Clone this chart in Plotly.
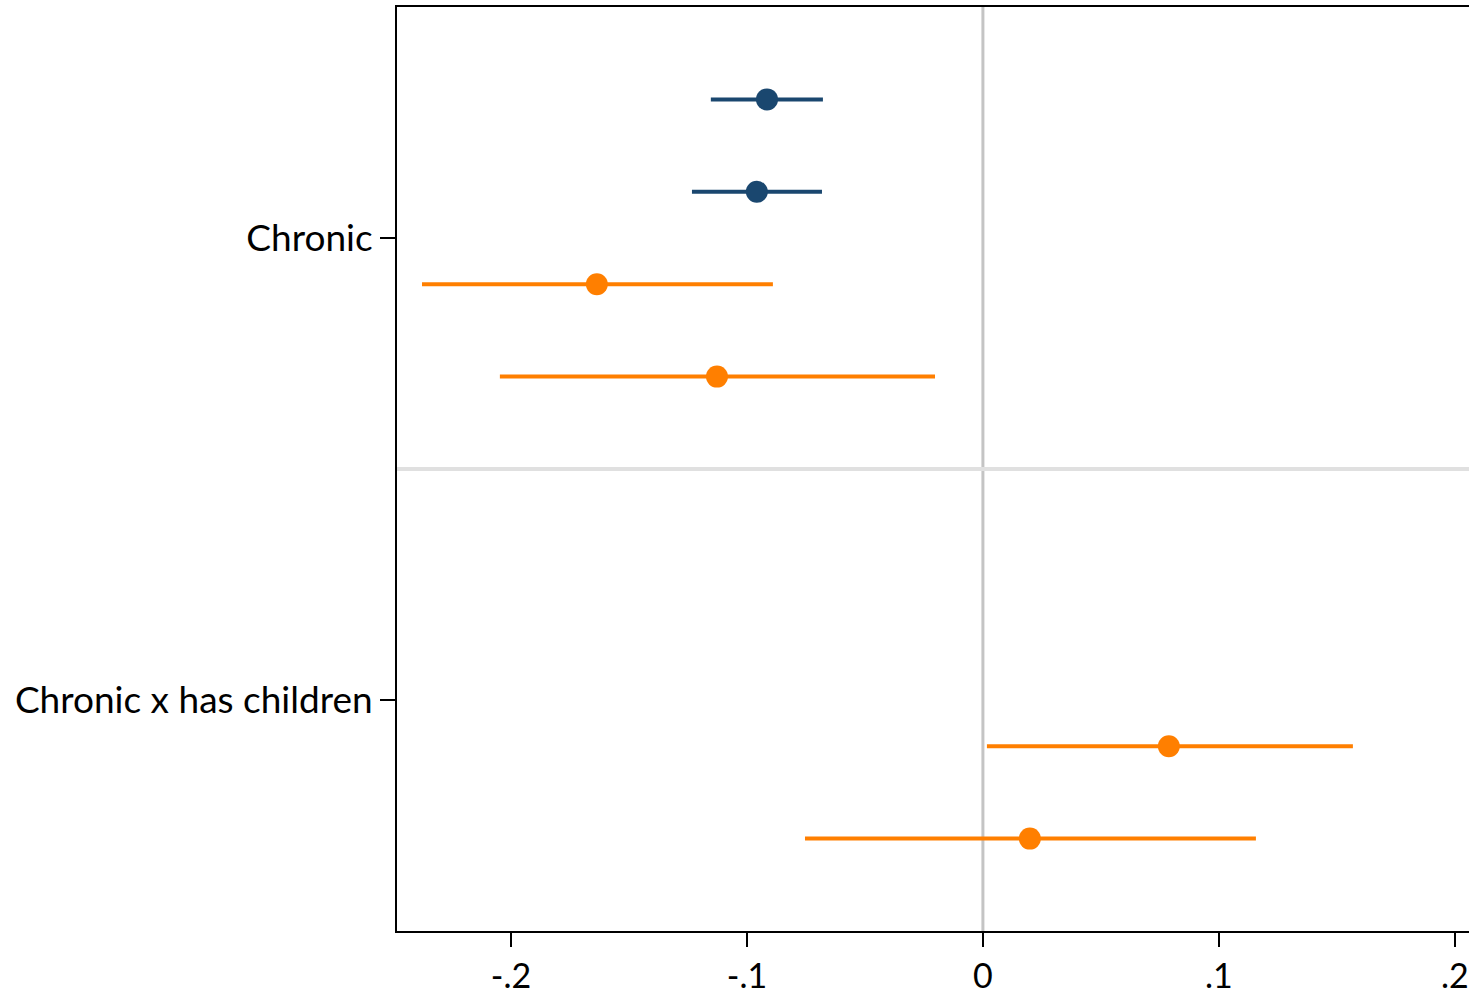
import plotly.graph_objects as go

# Coefficient estimates with 95% confidence intervals
categories = ["Chronic", "Chronic x has children"]
cat_pos = [2.5, 7.5]

navy_pos = [1, 2]
navy_est = [-0.0915, -0.0958]
navy_lo = [-0.1153, -0.1233]
navy_hi = [-0.0678, -0.0682]

orange_pos = [3, 4, 8, 9]
orange_est = [-0.1636, -0.1127, 0.0788, 0.0199]
orange_lo = [-0.2377, -0.2047, 0.0017, -0.0754]
orange_hi = [-0.0890, -0.0203, 0.1568, 0.1157]

x_ticks = [-0.2, -0.1, 0, 0.1, 0.2]
x_ticktext = ["-.2", "-.1", "0", ".1", ".2"]

NAVY = "#1a476f"
ORANGE = "#ff7f00"
FONT = "Lato"
FONT_SIZE = 37
X_FONT_SIZE = 34


def coef_trace(pos, est, lo, hi, color):
    return go.Scatter(
        x=est,
        y=pos,
        mode="markers",
        marker=dict(color=color, size=22, line=dict(width=0)),
        error_x=dict(
            type="data",
            symmetric=False,
            array=[h - e for h, e in zip(hi, est)],
            arrayminus=[e - l for e, l in zip(est, lo)],
            color=color,
            thickness=4,
            width=0,
        ),
        showlegend=False,
        hoverinfo="x",
    )


fig = go.Figure()
fig.add_trace(coef_trace(navy_pos, navy_est, navy_lo, navy_hi, NAVY))
fig.add_trace(coef_trace(orange_pos, orange_est, orange_lo, orange_hi, ORANGE))

# reference line at zero and separator between coefficient groups
fig.add_shape(type="line", xref="x", yref="paper", x0=0, x1=0, y0=0, y1=1,
              line=dict(color="#c4c4c4", width=3), layer="below")
fig.add_shape(type="line", xref="paper", yref="y", x0=0, x1=1, y0=5, y1=5,
              line=dict(color="#e0e0e0", width=4), layer="below")

fig.update_layout(
    width=1469,
    height=997,
    margin=dict(l=397, r=0, t=7, b=66),
    paper_bgcolor="white",
    plot_bgcolor="white",
    font=dict(family=FONT, color="black", size=FONT_SIZE),
)
fig.update_xaxes(
    range=[-0.2483, 0.206],
    tickvals=x_ticks,
    ticktext=x_ticktext,
    showgrid=False,
    zeroline=False,
    showline=True,
    linecolor="black",
    linewidth=2,
    mirror=True,
    ticks="outside",
    ticklen=14,
    tickwidth=2,
    tickcolor="black",
    tickfont=dict(size=X_FONT_SIZE),
    ticklabeloverflow="allow",
    automargin=False,
)
fig.update_yaxes(
    range=[10, 0],
    tickvals=cat_pos,
    ticktext=categories,
    showgrid=False,
    zeroline=False,
    showline=True,
    linecolor="black",
    linewidth=2,
    ticks="outside",
    ticklen=15,
    tickwidth=2,
    tickcolor="black",
    tickfont=dict(size=FONT_SIZE),
    automargin=False,
)

fig.write_html("out.html")
